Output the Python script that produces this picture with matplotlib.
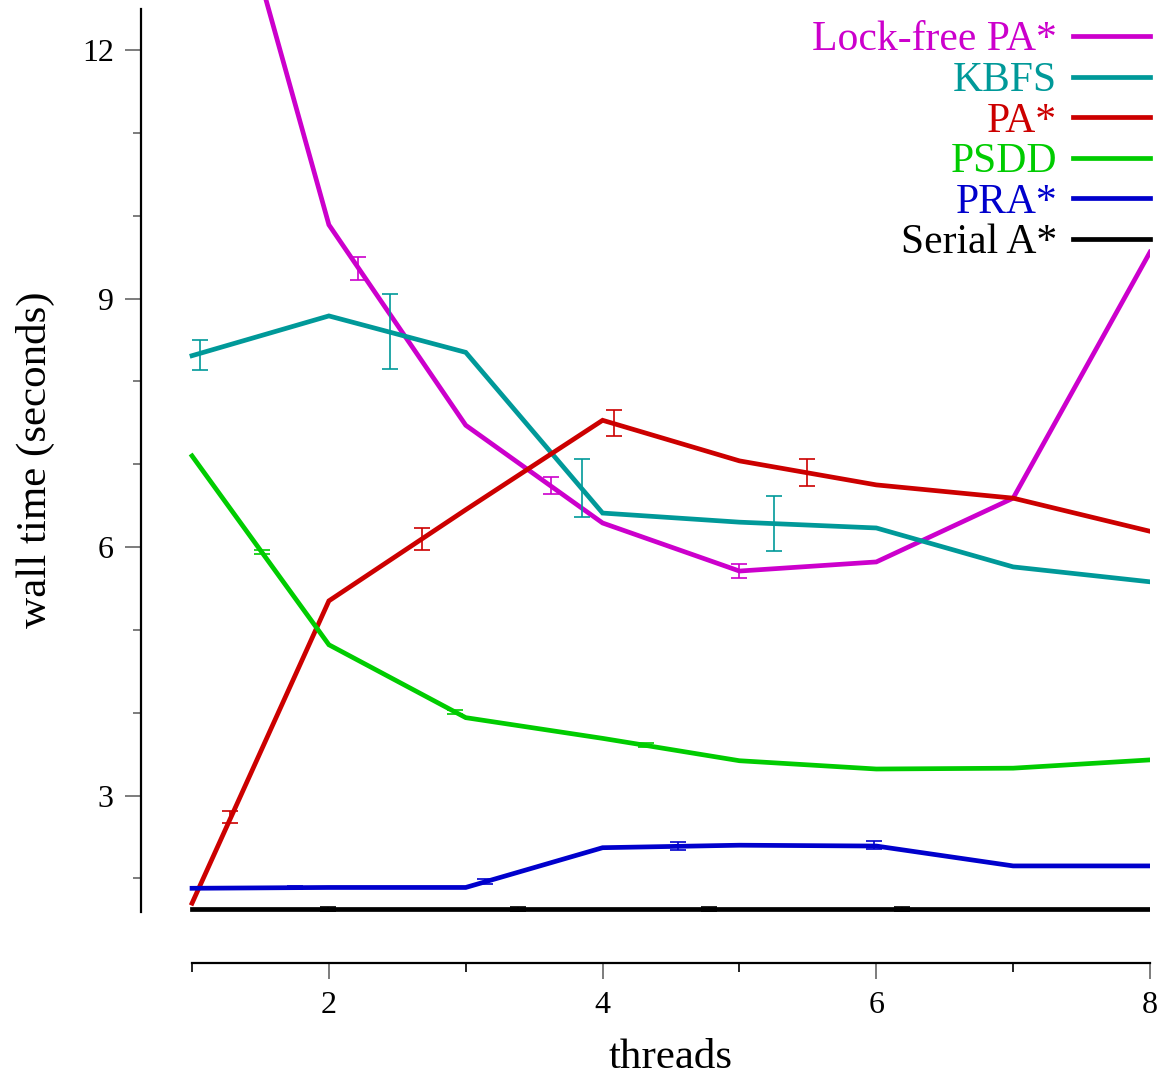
import matplotlib.pyplot as plt
from matplotlib.transforms import blended_transform_factory

threads = [1, 2, 3, 4, 5, 6, 7, 8]

lockfree = [15.8, 9.89, 7.47, 6.29, 5.71, 5.82, 6.59, 9.56]
kbfs = [8.31, 8.79, 8.35, 6.41, 6.30, 6.23, 5.76, 5.58]
pastar = [1.70, 5.35, 6.45, 7.53, 7.04, 6.75, 6.59, 6.19]
psdd = [7.10, 4.82, 3.94, 3.69, 3.42, 3.32, 3.33, 3.43]
prastar = [1.88, 1.89, 1.89, 2.37, 2.40, 2.39, 2.15, 2.15]
serial = [1.63, 1.63, 1.63, 1.63, 1.63, 1.63, 1.63, 1.63]

# error bars sit at offset positions along each curve
lockfree_ex = [2.21, 3.62, 5.00]
lockfree_ey = [9.36, 6.74, 5.71]
lockfree_eh = [0.14, 0.10, 0.09]

kbfs_ex = [1.06, 2.45, 3.85, 5.25]
kbfs_ey = [8.32, 8.60, 6.71, 6.28]
kbfs_eh = [0.18, 0.45, 0.35, 0.33]

pastar_ex = [1.28, 2.68, 4.08, 5.49]
pastar_ey = [2.74, 6.10, 7.50, 6.90]
pastar_eh = [0.07, 0.13, 0.16, 0.16]

psdd_ex = [1.51, 2.92, 4.32]
psdd_ey = [5.94, 4.01, 3.61]
psdd_eh = [0.03, 0.02, 0.02]

prastar_ex = [1.75, 3.14, 4.55, 5.98]
prastar_ey = [1.89, 1.96, 2.39, 2.40]
prastar_eh = [0.02, 0.03, 0.05, 0.05]

serial_ex = [1.99, 3.38, 4.78, 6.19]
serial_ey = [1.63, 1.63, 1.63, 1.63]
serial_eh = [0.03, 0.03, 0.03, 0.03]

labels = ["Lock-free PA*", "KBFS", "PA*", "PSDD", "PRA*", "Serial A*"]
colors = ["#cc00cc", "#009999", "#cc0000", "#00cc00", "#0000cc", "#000000"]

plt.rcParams["font.family"] = ["Liberation Serif", "DejaVu Serif"]


def main():
    fig = plt.figure(figsize=(11.63, 10.76), dpi=100)
    ax = fig.add_axes([141 / 1163, 113 / 1076, 1009 / 1163, 963 / 1076])

    series = [
        (lockfree, lockfree_ex, lockfree_ey, lockfree_eh),
        (kbfs, kbfs_ex, kbfs_ey, kbfs_eh),
        (pastar, pastar_ex, pastar_ey, pastar_eh),
        (psdd, psdd_ex, psdd_ey, psdd_eh),
        (prastar, prastar_ex, prastar_ey, prastar_eh),
        (serial, serial_ex, serial_ey, serial_eh),
    ]
    for (ys, ex, ey, eh), label, color in zip(series, labels, colors):
        ax.plot(threads, ys, color=color, lw=3.4, label=label,
                solid_joinstyle="miter")
        ax.errorbar(ex, ey, yerr=eh, fmt="none", ecolor=color,
                    elinewidth=1.2, capsize=6, capthick=1.2)

    ax.set_xlim(0.627, 8.0)
    ax.set_ylim(0.978, 12.604)

    for side in ["top", "right"]:
        ax.spines[side].set_visible(False)
    ax.spines["left"].set_bounds(1.59, 12.5)
    ax.spines["bottom"].set_bounds(1, 8)
    ax.spines["left"].set_linewidth(1.6)
    ax.spines["bottom"].set_linewidth(1.6)

    ax.set_yticks([3, 6, 9, 12])
    ax.set_yticks([2, 4, 5, 7, 8, 10, 11], minor=True)
    ax.set_xticks([2, 4, 6, 8])
    ax.set_xticks([1, 3, 5, 7], minor=True)

    ax.tick_params(axis="y", which="major", length=11.5, width=1.2,
                   color="#666666", labelsize=23, pad=8)
    ax.tick_params(axis="y", which="minor", length=5.8, width=1.2,
                   color="#666666")
    ax.tick_params(axis="x", which="major", length=11.5, width=1.2,
                   color="#666666", labelsize=23, pad=9)
    ax.tick_params(axis="x", which="minor", length=6.5, width=1.2,
                   color="black")

    ax.set_xlabel("threads", fontsize=31)
    ax.set_ylabel("wall time (seconds)", fontsize=31)
    ax.xaxis.set_label_coords(
        4.5, (1076 - 1068) / 1076,
        transform=blended_transform_factory(ax.transData, fig.transFigure))
    ax.yaxis.set_label_coords(
        35 / 1163, 7.05,
        transform=blended_transform_factory(fig.transFigure, ax.transData))
    ax.xaxis.label.set_va("baseline")
    ax.yaxis.label.set_va("center")

    leg = ax.legend(loc="upper right", bbox_to_anchor=(1.0, 1 - 21 / 963),
                    frameon=False, markerfirst=False, fontsize=30,
                    handlelength=1.85, handletextpad=0.38,
                    labelspacing=0.05, borderaxespad=0, borderpad=0,
                    labelcolor=colors)
    for line in leg.get_lines():
        line.set_linewidth(3.4)

    fig.savefig("out.png", dpi=100)


if __name__ == "__main__":
    main()
